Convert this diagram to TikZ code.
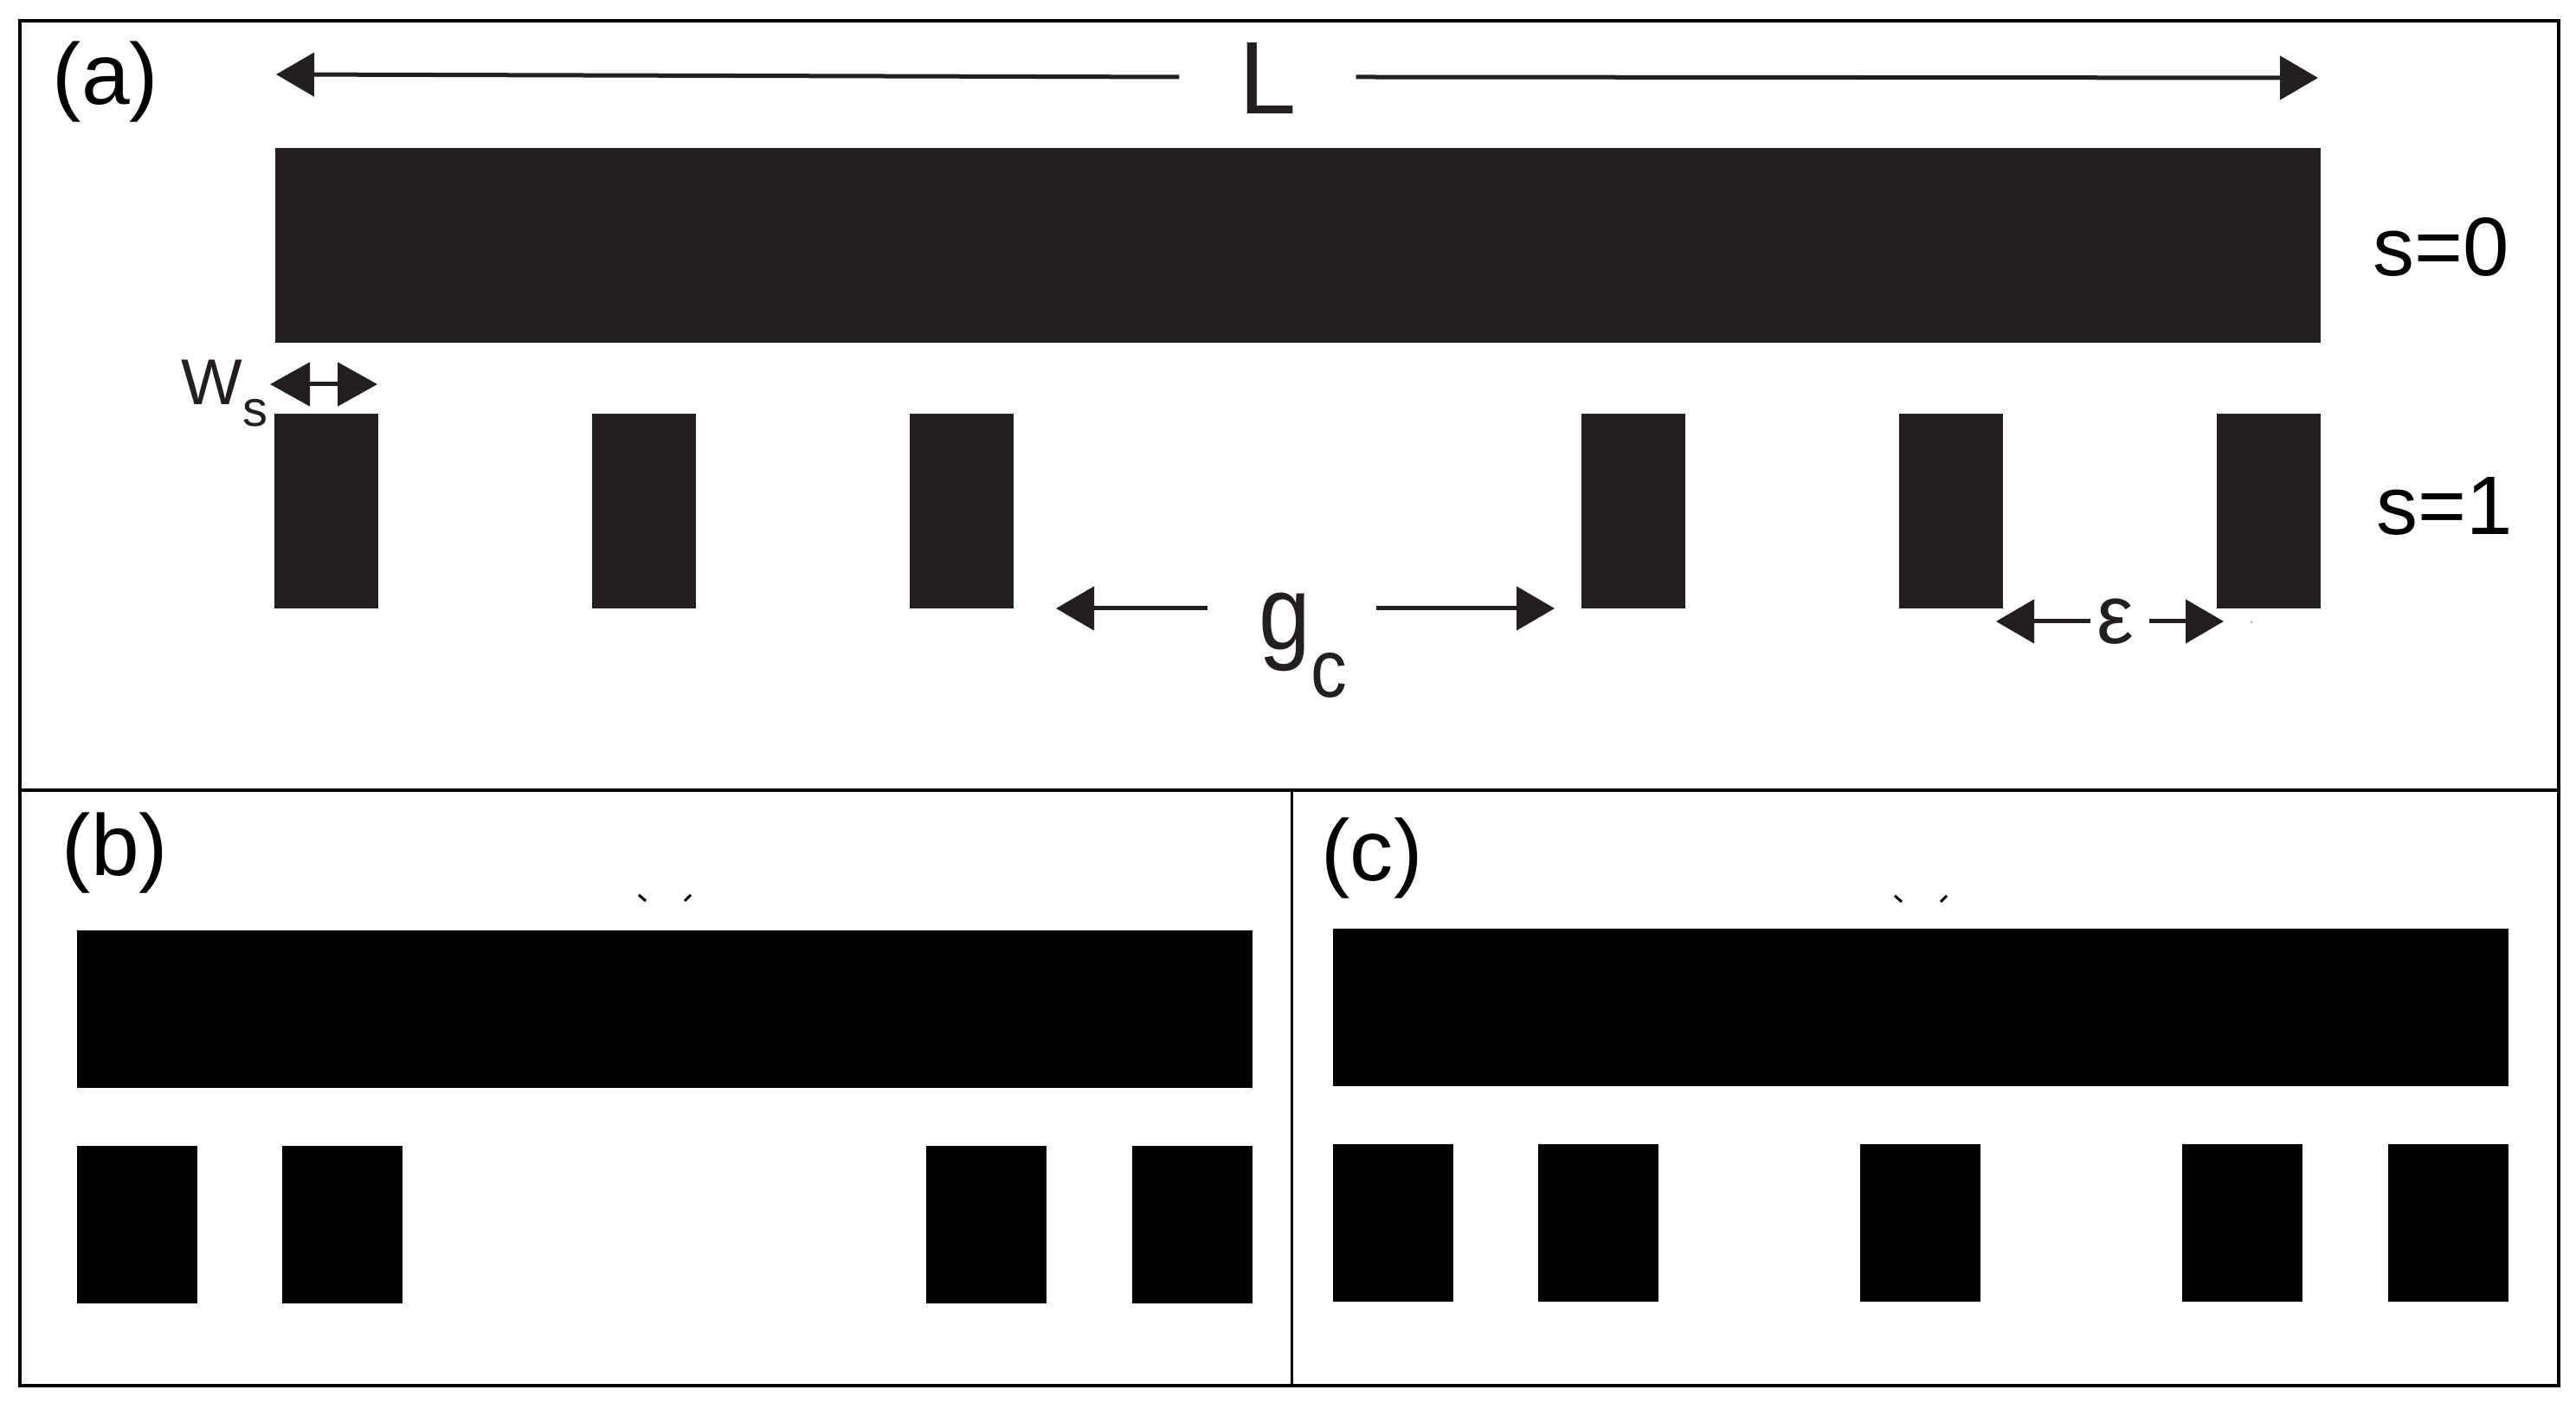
\documentclass[tikz,border=0pt]{standalone}
\usepackage{fontspec}
\setmainfont{Liberation Sans}
\usetikzlibrary{arrows.meta}
\definecolor{ink}{HTML}{231F20}
\tikzstyle{frame}=[draw=black,line width=0.04cm]
\tikzstyle{bara}=[rectangle,fill=ink,inner sep=0pt,minimum width=23.63cm,minimum height=2.25cm]
\tikzstyle{tootha}=[rectangle,fill=ink,inner sep=0pt,minimum width=1.2cm,minimum height=2.25cm]
\tikzstyle{barb}=[rectangle,fill=black,inner sep=0pt,minimum width=13.58cm,minimum height=1.82cm]
\tikzstyle{toothb}=[rectangle,fill=black,inner sep=0pt,minimum width=1.39cm,minimum height=1.82cm]
\tikzstyle{tag}=[inner sep=0pt,anchor=base,font=\fontsize{28.5}{28.5}\selectfont]
\tikzstyle{sval}=[inner sep=0pt,anchor=base,text=black,font=\fontsize{27.3}{27.3}\selectfont]
\tikzstyle{gaptext}=[inner sep=0pt,text=ink]
\tikzstyle{dim} = [draw=ink,line width=0.05cm,-{Triangle[length=0.44cm,width=0.5cm]}]
\tikzstyle{dimboth} = [draw=ink,line width=0.05cm,{Triangle[length=0.46cm,width=0.5cm]}-{Triangle[length=0.46cm,width=0.5cm]}]

\begin{document}
\begin{tikzpicture}
    \useasboundingbox (0,0) rectangle (29.76,16.28);
    % Frames of the three panels
    \path[frame] (0.23,0.27) rectangle (29.56,16.04);
    \path[frame] (0.23,7.15) -- (29.56,7.15);
    \path[draw=black,line width=0.03cm] (14.92,7.15) -- (14.92,0.27);

    % Panel (a), the bar and the teeth
    \node[bara] (bar_a) at (14.995,13.445) {};
    \foreach \pos/\name in {{(3.765,10.37)/a_1}, {(7.44,10.37)/a_2}, {(11.105,10.37)/a_3}, {(18.87,10.37)/a_4}, {(22.54,10.37)/a_5}, {(26.21,10.37)/a_6}}
        \node[tootha] (\name) at \pos {};

    % Panels (b) and (c)
    \node[barb] (bar_b) at (7.68,4.62) {};
    \node[barb] (bar_c) at (22.19,4.635) {};
    \foreach \pos/\name in {{(1.58,2.125)/b_1}, {(3.95,2.125)/b_2}, {(11.395,2.125)/b_3}, {(13.775,2.125)/b_4}, {(16.09,2.145)/c_1}, {(18.465,2.145)/c_2}, {(22.18,2.145)/c_3}, {(25.90,2.145)/c_4}, {(28.285,2.145)/c_5}}
        \node[toothb] (\name) at \pos {};

    % Labels
    \node[tag] (tag_a) at (1.22,15.07) {(a)};
    \node[tag] (tag_b) at (1.33,6.16) {(b)};
    \node[tag] (tag_c) at (15.85,6.10) {(c)};
    \node[sval] (s_0) at (28.20,13.09) {s=0};
    \node[sval] (s_1) at (28.24,10.10) {s=1};
    \node[gaptext,font=\fontsize{33.9}{33.9}\selectfont,minimum width=2.03cm,text height=0.86cm,text depth=0pt] (L) at (14.645,15.39) {L};
    \node[gaptext,anchor=base west,font=\fontsize{21.3}{21.3}\selectfont] (W_s) at (2.09,11.60) {W\raisebox{-0.25cm}{\fontsize{16.5}{16.5}\selectfont s}};
    \node[gaptext,anchor=base west,font=\fontsize{34.7}{34.7}\selectfont,xscale=0.88] (g_c) at (14.54,8.77) {g\raisebox{-0.55cm}{\fontsize{27}{27}\selectfont c}};
    \node[gaptext,font=\fontsize{27.3}{27.3}\selectfont,minimum width=0.66cm] (eps) at (24.49,9.10) {\hspace*{-0.1cm}ε};

    % Free ends of the dimension arrows
    \foreach \pos/\name in {{(3.19,15.42)/L_l}, {(26.78,15.38)/L_r}, {(3.12,11.84)/w_l}, {(4.36,11.84)/w_r}, {(13.95,9.25)/g_a}, {(12.20,9.25)/g_l}, {(15.90,9.25)/g_b}, {(17.96,9.25)/g_r}, {(23.06,9.10)/e_l}, {(25.69,9.10)/e_r}}
        \node[coordinate] (\name) at \pos {};

    % Connect them
    \foreach \source/ \dest in {L.west/L_l, L.east/L_r, g_a/g_l, g_b/g_r, eps.west/e_l, eps.east/e_r}
        \path[dim] (\source) -- (\dest);
    \path[dimboth] (w_l) -- (w_r);

    % Small stray marks
    \fill[gray] (26.01,9.09) circle (0.012);
    \foreach \xa/\xb/\ya/\yb in {7.38/7.46/5.94/5.87, 7.98/7.91/5.94/5.87, 21.89/21.97/5.93/5.86, 22.49/22.42/5.93/5.86}
        \draw[line width=0.03cm] (\xa,\ya) -- (\xb,\yb);
\end{tikzpicture}
\end{document}
